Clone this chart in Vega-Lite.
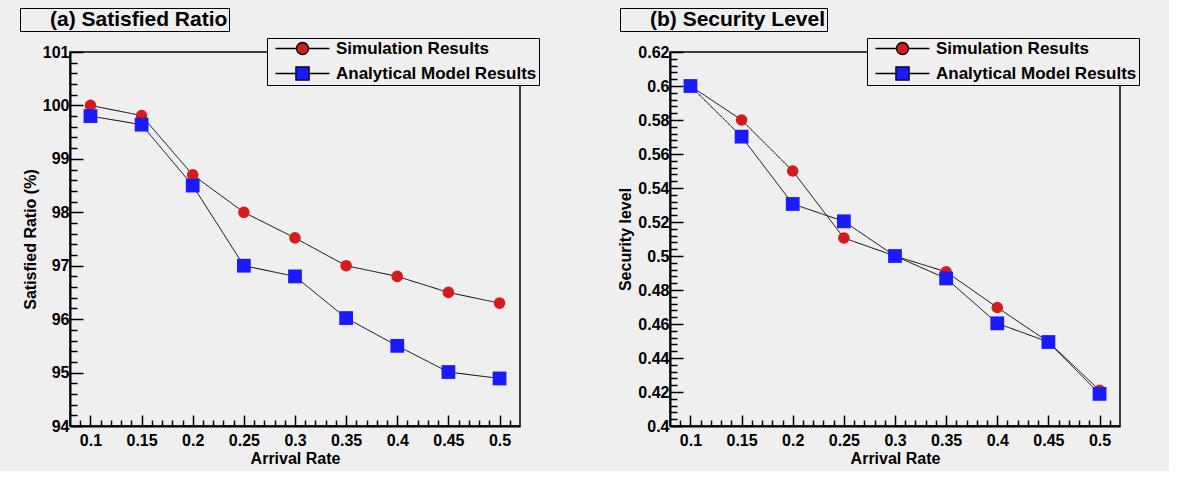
{
  "$schema": "https://vega.github.io/schema/vega-lite/v6.json",
  "background": "#efefef",
  "padding": {"left": 18, "top": 6, "right": 28, "bottom": 4},
  "spacing": 150,
  "bounds": "flush",
  "config": {
    "font": "Liberation Sans",
    "view": {"stroke": "black", "strokeWidth": 1.5},
    "axis": {
      "domainColor": "black", "domainWidth": 2, "tickColor": "black", "tickWidth": 1.5,
      "labelFont": "Liberation Sans", "labelFontWeight": "bold", "labelFontSize": 16, "labelColor": "black",
      "titleFont": "Liberation Sans", "titleFontWeight": "bold", "titleFontSize": 16, "titleColor": "black",
      "grid": false
    },
    "legend": {
      "orient": "none",
      "strokeColor": "black", "fillColor": "#efefef",
      "labelFont": "Liberation Sans", "labelFontWeight": "bold", "labelColor": "black", "labelLimit": 400
    }
  },
  "datasets": {
    "ratio": [
      {"rate": 0.1, "series": "Simulation Results", "value": 100.0},
      {"rate": 0.15, "series": "Simulation Results", "value": 99.81},
      {"rate": 0.2, "series": "Simulation Results", "value": 98.7},
      {"rate": 0.25, "series": "Simulation Results", "value": 98.0},
      {"rate": 0.3, "series": "Simulation Results", "value": 97.52},
      {"rate": 0.35, "series": "Simulation Results", "value": 97.0},
      {"rate": 0.4, "series": "Simulation Results", "value": 96.8},
      {"rate": 0.45, "series": "Simulation Results", "value": 96.5},
      {"rate": 0.5, "series": "Simulation Results", "value": 96.3},
      {"rate": 0.1, "series": "Analytical Model Results", "value": 99.8},
      {"rate": 0.15, "series": "Analytical Model Results", "value": 99.64},
      {"rate": 0.2, "series": "Analytical Model Results", "value": 98.5},
      {"rate": 0.25, "series": "Analytical Model Results", "value": 97.0},
      {"rate": 0.3, "series": "Analytical Model Results", "value": 96.8},
      {"rate": 0.35, "series": "Analytical Model Results", "value": 96.02},
      {"rate": 0.4, "series": "Analytical Model Results", "value": 95.5},
      {"rate": 0.45, "series": "Analytical Model Results", "value": 95.01},
      {"rate": 0.5, "series": "Analytical Model Results", "value": 94.89}
    ],
    "security": [
      {"rate": 0.1, "series": "Simulation Results", "value": 0.6},
      {"rate": 0.15, "series": "Simulation Results", "value": 0.58},
      {"rate": 0.2, "series": "Simulation Results", "value": 0.55},
      {"rate": 0.25, "series": "Simulation Results", "value": 0.5106},
      {"rate": 0.3, "series": "Simulation Results", "value": 0.5},
      {"rate": 0.35, "series": "Simulation Results", "value": 0.4907},
      {"rate": 0.4, "series": "Simulation Results", "value": 0.4697},
      {"rate": 0.45, "series": "Simulation Results", "value": 0.4495},
      {"rate": 0.5, "series": "Simulation Results", "value": 0.421},
      {"rate": 0.1, "series": "Analytical Model Results", "value": 0.6},
      {"rate": 0.15, "series": "Analytical Model Results", "value": 0.5702},
      {"rate": 0.2, "series": "Analytical Model Results", "value": 0.5306},
      {"rate": 0.25, "series": "Analytical Model Results", "value": 0.5204},
      {"rate": 0.3, "series": "Analytical Model Results", "value": 0.5},
      {"rate": 0.35, "series": "Analytical Model Results", "value": 0.4868},
      {"rate": 0.4, "series": "Analytical Model Results", "value": 0.4604},
      {"rate": 0.45, "series": "Analytical Model Results", "value": 0.4494},
      {"rate": 0.5, "series": "Analytical Model Results", "value": 0.4189}
    ]
  },
  "hconcat": [
    {
      "width": 450, "height": 374,
      "data": {"name": "ratio"},
      "layer": [
        {
          "mark": {"type": "line", "color": "black", "strokeWidth": 1},
          "encoding": {
            "x": {"field": "rate", "type": "quantitative", "scale": {"domain": [0.08, 0.52], "nice": false, "zero": false},
              "axis": {"title": "Arrival Rate", "values": [0.1, 0.15, 0.2, 0.25, 0.3, 0.35, 0.4, 0.45, 0.5], "format": "~g", "tickSize": -11, "labelPadding": 17, "titlePadding": 2}},
            "y": {"field": "value", "type": "quantitative", "scale": {"domain": [94, 101], "nice": false, "zero": false},
              "axis": {"title": "Satisfied Ratio (%)", "values": [94, 95, 96, 97, 98, 99, 100, 101], "format": "~g", "tickSize": -13, "labelPadding": 14, "titlePadding": 4}},
            "detail": {"field": "series"},
            "strokeDash": {"datum": "(a) Satisfied Ratio", "type": "nominal", "scale": {"range": [[1, 0]]},
              "legend": {"title": null, "legendX": -50, "legendY": -44, "padding": 1, "symbolSize": 0, "symbolOpacity": 0, "symbolStrokeWidth": 0, "labelOffset": 8, "labelFontSize": 21, "zindex": 2}}
          }
        },
        {
          "mark": {"type": "point", "filled": true, "opacity": 0, "size": 144},
          "encoding": {
            "x": {"field": "rate", "type": "quantitative",
              "axis": {"orient": "bottom", "title": null, "labels": false, "domain": false, "tickSize": -6, "values": [0.09, 0.11, 0.12, 0.13, 0.14, 0.16, 0.17, 0.18, 0.19, 0.21, 0.22, 0.23, 0.24, 0.26, 0.27, 0.28, 0.29, 0.31, 0.32, 0.33, 0.34, 0.36, 0.37, 0.38, 0.39, 0.41, 0.42, 0.43, 0.44, 0.46, 0.47, 0.48, 0.49, 0.51]}},
            "y": {"field": "value", "type": "quantitative",
              "axis": {"orient": "left", "title": null, "labels": false, "domain": false, "tickSize": -7, "values": [94.2, 94.4, 94.6, 94.8, 95.2, 95.4, 95.6, 95.8, 96.2, 96.4, 96.6, 96.8, 97.2, 97.4, 97.6, 97.8, 98.2, 98.4, 98.6, 98.8, 99.2, 99.4, 99.6, 99.8, 100.2, 100.4, 100.6, 100.8]}},
            "color": {"field": "series", "type": "nominal",
              "scale": {"domain": ["Simulation Results", "Analytical Model Results"], "range": ["#d41c1c", "#1a1aff"]},
              "legend": {"title": null, "legendX": 197, "legendY": -14, "padding": 2, "rowPadding": 6, "labelFontSize": 17, "zindex": 2,
                "symbolSize": 144, "symbolOffset": 25, "labelOffset": 25, "symbolOpacity": 1, "symbolStrokeColor": "black", "symbolStrokeWidth": 1.3}},
            "shape": {"field": "series", "type": "nominal",
              "scale": {"domain": ["Simulation Results", "Analytical Model Results"], "range": ["M-4.5,0H-1M1,0H4.5M-1,0A1,1 0 1,0 1,0A1,1 0 1,0 -1,0Z", "M-4.5,0H-1.1M1.1,0H4.5M-1.1,-1.1H1.1V1.1H-1.1Z"]}},
            "size": {"datum": " ", "type": "nominal", "scale": {"range": [144]},
              "legend": {"title": null, "legendX": -46, "legendY": -40, "padding": 1, "fillColor": "black", "strokeColor": "black", "zindex": 1,
                "symbolSize": 484, "symbolOffset": 0, "symbolOpacity": 0, "symbolStrokeWidth": 0, "labelOffset": 186, "labelFontSize": 8}},
            "strokeWidth": {"datum": " ", "type": "nominal", "scale": {"range": [1]},
              "legend": {"title": null, "legendX": 201, "legendY": -10, "padding": 2, "fillColor": "black", "strokeColor": "black", "zindex": 1,
                "symbolSize": 1764, "symbolOffset": 0, "symbolOpacity": 0, "labelOffset": 226, "labelFontSize": 8}}
          }
        },
        {
          "transform": [{"filter": "datum.series === 'Simulation Results'"}],
          "mark": {"type": "point", "filled": true, "opacity": 1, "shape": "circle", "size": 135},
          "encoding": {
            "x": {"field": "rate", "type": "quantitative", "axis": null},
            "y": {"field": "value", "type": "quantitative", "axis": null},
            "color": {"field": "series", "type": "nominal"}
          }
        },
        {
          "transform": [{"filter": "datum.series === 'Analytical Model Results'"}],
          "mark": {"type": "point", "filled": true, "opacity": 1, "shape": "square", "size": 190},
          "encoding": {
            "x": {"field": "rate", "type": "quantitative", "axis": null},
            "y": {"field": "value", "type": "quantitative", "axis": null},
            "color": {"field": "series", "type": "nominal"}
          }
        }
      ],
      "resolve": {"axis": {"x": "independent", "y": "independent"}}
    },
    {
      "width": 450, "height": 374,
      "data": {"name": "security"},
      "layer": [
        {
          "mark": {"type": "line", "color": "black", "strokeWidth": 1},
          "encoding": {
            "x": {"field": "rate", "type": "quantitative", "scale": {"domain": [0.08, 0.52], "nice": false, "zero": false},
              "axis": {"title": "Arrival Rate", "values": [0.1, 0.15, 0.2, 0.25, 0.3, 0.35, 0.4, 0.45, 0.5], "format": "~g", "tickSize": -11, "labelPadding": 17, "titlePadding": 2}},
            "y": {"field": "value", "type": "quantitative", "scale": {"domain": [0.4, 0.62], "nice": false, "zero": false},
              "axis": {"title": "Security level", "values": [0.4, 0.42, 0.44, 0.46, 0.48, 0.5, 0.52, 0.54, 0.56, 0.58, 0.6, 0.62], "format": "~g", "tickSize": -13, "labelPadding": 14, "titlePadding": 4}},
            "detail": {"field": "series"},
            "strokeDash": {"datum": "(b) Security Level", "type": "nominal", "scale": {"range": [[1, 0]]},
              "legend": {"title": null, "legendX": -50, "legendY": -44, "padding": 1, "symbolSize": 0, "symbolOpacity": 0, "symbolStrokeWidth": 0, "labelOffset": 8, "labelFontSize": 21, "zindex": 2}}
          }
        },
        {
          "mark": {"type": "point", "filled": true, "opacity": 0, "size": 144},
          "encoding": {
            "x": {"field": "rate", "type": "quantitative",
              "axis": {"orient": "bottom", "title": null, "labels": false, "domain": false, "tickSize": -6, "values": [0.09, 0.11, 0.12, 0.13, 0.14, 0.16, 0.17, 0.18, 0.19, 0.21, 0.22, 0.23, 0.24, 0.26, 0.27, 0.28, 0.29, 0.31, 0.32, 0.33, 0.34, 0.36, 0.37, 0.38, 0.39, 0.41, 0.42, 0.43, 0.44, 0.46, 0.47, 0.48, 0.49, 0.51]}},
            "y": {"field": "value", "type": "quantitative",
              "axis": {"orient": "left", "title": null, "labels": false, "domain": false, "tickSize": -7, "values": [0.404, 0.408, 0.412, 0.416, 0.424, 0.428, 0.432, 0.436, 0.444, 0.448, 0.452, 0.456, 0.464, 0.468, 0.472, 0.476, 0.484, 0.488, 0.492, 0.496, 0.504, 0.508, 0.512, 0.516, 0.524, 0.528, 0.532, 0.536, 0.544, 0.548, 0.552, 0.556, 0.564, 0.568, 0.572, 0.576, 0.584, 0.588, 0.592, 0.596, 0.604, 0.608, 0.612, 0.616]}},
            "color": {"field": "series", "type": "nominal",
              "scale": {"domain": ["Simulation Results", "Analytical Model Results"], "range": ["#d41c1c", "#1a1aff"]},
              "legend": {"title": null, "legendX": 197, "legendY": -14, "padding": 2, "rowPadding": 6, "labelFontSize": 17, "zindex": 2,
                "symbolSize": 144, "symbolOffset": 25, "labelOffset": 25, "symbolOpacity": 1, "symbolStrokeColor": "black", "symbolStrokeWidth": 1.3}},
            "shape": {"field": "series", "type": "nominal",
              "scale": {"domain": ["Simulation Results", "Analytical Model Results"], "range": ["M-4.5,0H-1M1,0H4.5M-1,0A1,1 0 1,0 1,0A1,1 0 1,0 -1,0Z", "M-4.5,0H-1.1M1.1,0H4.5M-1.1,-1.1H1.1V1.1H-1.1Z"]}},
            "size": {"datum": " ", "type": "nominal", "scale": {"range": [144]},
              "legend": {"title": null, "legendX": -46, "legendY": -40, "padding": 1, "fillColor": "black", "strokeColor": "black", "zindex": 1,
                "symbolSize": 484, "symbolOffset": 0, "symbolOpacity": 0, "symbolStrokeWidth": 0, "labelOffset": 186, "labelFontSize": 8}},
            "strokeWidth": {"datum": " ", "type": "nominal", "scale": {"range": [1]},
              "legend": {"title": null, "legendX": 201, "legendY": -10, "padding": 2, "fillColor": "black", "strokeColor": "black", "zindex": 1,
                "symbolSize": 1764, "symbolOffset": 0, "symbolOpacity": 0, "labelOffset": 226, "labelFontSize": 8}}
          }
        },
        {
          "transform": [{"filter": "datum.series === 'Simulation Results'"}],
          "mark": {"type": "point", "filled": true, "opacity": 1, "shape": "circle", "size": 135},
          "encoding": {
            "x": {"field": "rate", "type": "quantitative", "axis": null},
            "y": {"field": "value", "type": "quantitative", "axis": null},
            "color": {"field": "series", "type": "nominal"}
          }
        },
        {
          "transform": [{"filter": "datum.series === 'Analytical Model Results'"}],
          "mark": {"type": "point", "filled": true, "opacity": 1, "shape": "square", "size": 190},
          "encoding": {
            "x": {"field": "rate", "type": "quantitative", "axis": null},
            "y": {"field": "value", "type": "quantitative", "axis": null},
            "color": {"field": "series", "type": "nominal"}
          }
        }
      ],
      "resolve": {"axis": {"x": "independent", "y": "independent"}}
    }
  ],
  "resolve": {
    "legend": {"color": "independent", "shape": "independent", "strokeDash": "independent", "size": "independent", "strokeWidth": "independent"},
    "scale": {"color": "independent", "shape": "independent", "strokeDash": "independent", "size": "independent", "strokeWidth": "independent"}
  }
}
